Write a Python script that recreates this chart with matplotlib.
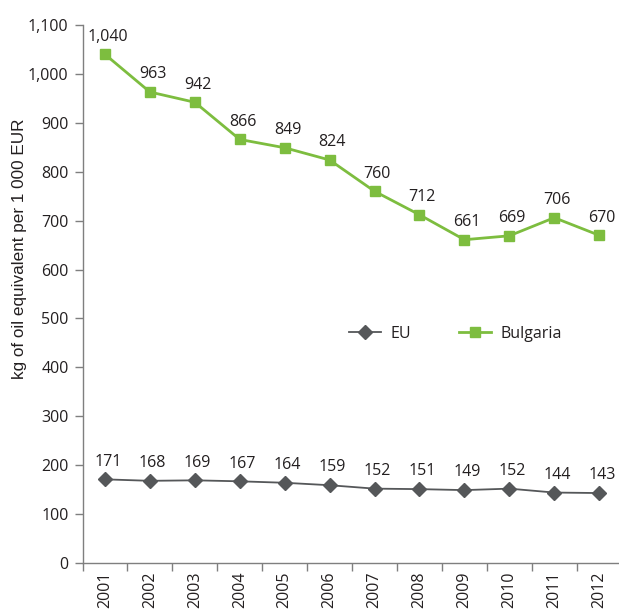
import numpy as np
import matplotlib.pyplot as plt

plt.rcParams['font.family'] = ['Open Sans', 'DejaVu Sans']

years = ['2001', '2002', '2003', '2004', '2005', '2006',
         '2007', '2008', '2009', '2010', '2011', '2012']
eu = [171, 168, 169, 167, 164, 159, 152, 151, 149, 152, 144, 143]
bulgaria = [1040, 963, 942, 866, 849, 824, 760, 712, 661, 669, 706, 670]

green = '#7dbd3f'
grey = '#555759'
axis_grey = '#7f7f7f'
text_col = '#231f20'
fs = 11.5

fig = plt.figure(figsize=(6.19, 6.13), dpi=100)
ax = fig.add_axes([0.1333, 0.0816, 0.871, 0.8776])

x = np.arange(len(years))
ax.plot(x, eu, color=grey, lw=1.3, marker='D', ms=7.5, label='EU')
ax.plot(x, bulgaria, color=green, lw=2, marker='s', ms=7.5, label='Bulgaria')

# value labels sit just above each marker
for xi, v in zip(x, eu):
    ax.annotate(str(v), (xi, v), xytext=(2, 7), textcoords='offset points',
                ha='center', va='bottom', fontsize=fs, color=text_col)
for xi, v in zip(x, bulgaria):
    ax.annotate(f'{v:,}', (xi, v), xytext=(2, 7), textcoords='offset points',
                ha='center', va='bottom', fontsize=fs, color=text_col)

ax.set_xlim(-0.5, len(years) - 0.5)
ax.set_ylim(0, 1100)
ax.set_yticks(range(0, 1101, 100))
ax.set_yticklabels([f'{v:,}' for v in range(0, 1101, 100)], fontsize=fs, color=text_col)
ax.set_xticks(x)
ax.set_xticklabels(years, rotation=90, fontsize=fs, color=text_col)
ax.set_xticks(np.arange(-0.5, len(years)), minor=True)
ax.tick_params(axis='x', which='major', length=0, pad=6)
ax.tick_params(axis='x', which='minor', length=6, color=axis_grey, width=1)
ax.tick_params(axis='y', length=6, color=axis_grey, width=1, pad=4)
ax.set_ylabel('kg of oil equivalent per 1 000 EUR', fontsize=12.3,
              family=['Liberation Sans', 'DejaVu Sans'], color=text_col)
ax.yaxis.set_label_coords(-0.103, 0.585)

for s in ['top', 'right']:
    ax.spines[s].set_visible(False)
for s in ['left', 'bottom']:
    ax.spines[s].set_color(axis_grey)
    ax.spines[s].set_linewidth(1)

ax.legend(loc='center', bbox_to_anchor=(0.691, 0.426), ncol=2, frameon=False,
          fontsize=fs, handlelength=2.0, columnspacing=3.0, handletextpad=0.6,
          labelcolor=text_col)

fig.savefig('out.png', dpi=100)
